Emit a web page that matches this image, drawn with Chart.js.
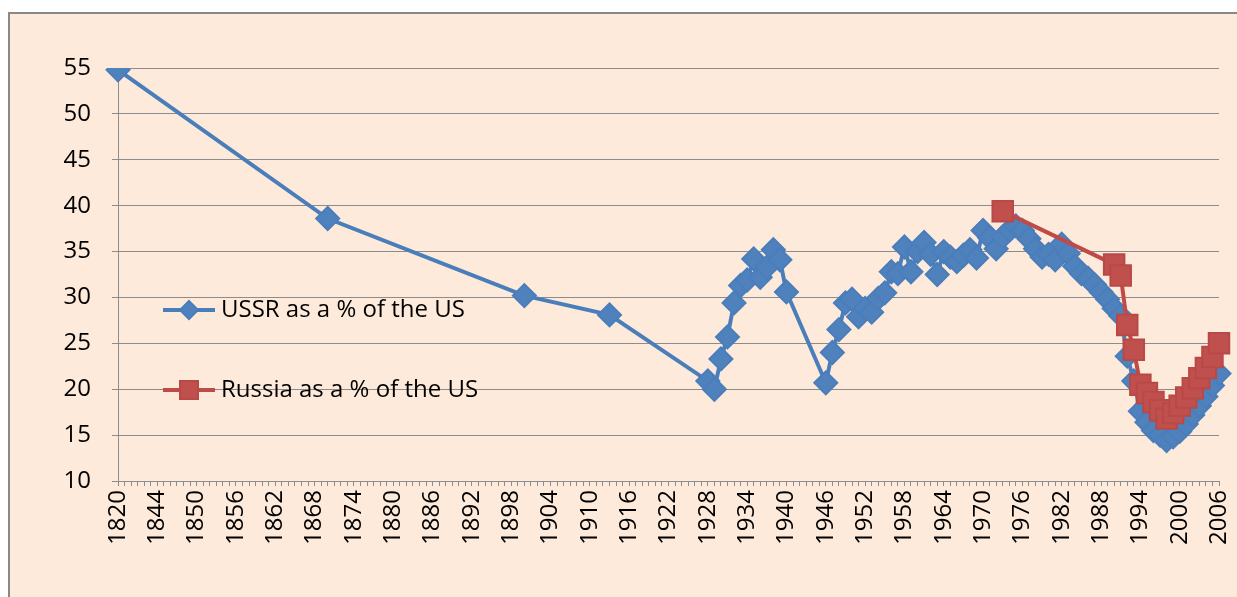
<!DOCTYPE html>
<html>
<head>
<meta charset="utf-8">
<script src="https://cdn.jsdelivr.net/npm/chart.js@4/dist/chart.umd.min.js"></script>
<style>
  html, body { margin: 0; padding: 0; background: #fff; }
  #wrap { width: 1237px; height: 597px; position: relative; }
</style>
</head>
<body>
<div id="wrap"><canvas id="gdpChart"></canvas></div>
<script>
// category axis: 1820, then every year 1839..2006 (Excel line chart)
const years = ['1820'];
for (let y = 1839; y <= 2006; y++) years.push(String(y));

const ussrYears = [1820, 1870, 1900, 1913,
    1928, 1929, 1930, 1931, 1932, 1933, 1934, 1935, 1936, 1937, 1938, 1939, 1940,
    1946, 1947, 1948, 1949, 1950, 1951, 1952, 1953, 1954, 1955, 1956, 1957, 1958, 1959,
    1960, 1961, 1962, 1963, 1964, 1965, 1966, 1967, 1968, 1969,
    1970, 1971, 1972, 1973, 1974, 1975, 1976, 1977, 1978, 1979,
    1980, 1981, 1982, 1983, 1984, 1985, 1986, 1987, 1988, 1989,
    1990, 1991, 1992, 1993, 1994, 1995, 1996, 1997, 1998, 1999,
    2000, 2001, 2002, 2003, 2004, 2005, 2006];
const ussrValues = [54.8, 38.6, 30.2, 28.1,
    20.9, 20.0, 23.3, 25.7, 29.4, 31.3, 31.9, 34.2, 32.2, 33.3, 35.2, 34.1, 30.6,
    20.7, 24.0, 26.5, 29.4, 29.8, 27.9, 28.8, 28.4, 29.9, 30.5, 32.8, 32.6, 35.5, 32.8,
    35.0, 36.0, 34.7, 32.5, 35.0, 34.4, 33.9, 34.6, 35.2, 34.3,
    37.3, 36.5, 35.3, 36.6, 37.3, 37.8, 37.3, 36.4, 35.3, 34.4,
    34.7, 34.1, 35.8, 34.8, 33.4, 32.6, 32.1, 31.4, 30.6, 29.8,
    28.8, 28.0, 23.6, 20.9, 17.6, 16.4, 15.5, 15.0, 14.4, 14.8,
    15.4, 16.2, 17.2, 18.2, 19.2, 20.4, 21.7];

const russiaYears = [1973, 1990, 1991, 1992, 1993, 1994, 1995, 1996, 1997, 1998, 1999,
    2000, 2001, 2002, 2003, 2004, 2005, 2006];
const russiaValues = [39.4, 33.6, 32.4, 27.0, 24.3, 20.5, 19.6, 18.6, 17.7, 16.8, 17.4,
    18.2, 19.1, 20.1, 21.2, 22.3, 23.5, 25.0];

const yTicks = [10, 15, 20, 25, 30, 35, 40, 45, 50, 55];

const pairs = (xs, vs) => xs.map((x, i) => ({ x: String(x), y: vs[i] }));

// peach panel with grey frame
const panelBg = {
    id: 'panelBg',
    beforeDraw(chart) {
        const ctx = chart.ctx;
        ctx.save();
        ctx.fillStyle = '#ffffff';
        ctx.fillRect(0, 0, chart.width, chart.height);
        ctx.fillStyle = '#FDEADA';
        ctx.fillRect(9, 13, chart.width, chart.height);
        ctx.strokeStyle = '#888888';
        ctx.lineWidth = 2;
        ctx.beginPath();
        ctx.moveTo(9, chart.height + 2);
        ctx.lineTo(9, 13);
        ctx.lineTo(chart.width + 2, 13);
        ctx.stroke();
        ctx.restore();
    }
};

// legend floating inside the plot, as in the Excel original
const floatLegend = {
    id: 'floatLegend',
    afterDraw(chart) {
        const ctx = chart.ctx;
        const rows = [
            { ds: chart.data.datasets[1], y: 310, shape: 'diamond' },
            { ds: chart.data.datasets[0], y: 390, shape: 'square' }
        ];
        ctx.save();
        rows.forEach(r => {
            ctx.strokeStyle = r.ds.borderColor;
            ctx.lineWidth = 4;
            ctx.beginPath();
            ctx.moveTo(163, r.y);
            ctx.lineTo(215, r.y);
            ctx.stroke();
            ctx.fillStyle = r.ds.pointBackgroundColor;
            ctx.strokeStyle = r.ds.pointBorderColor;
            ctx.lineWidth = 2;
            ctx.beginPath();
            if (r.shape === 'diamond') {
                ctx.moveTo(189, r.y - 9);
                ctx.lineTo(198, r.y);
                ctx.lineTo(189, r.y + 9);
                ctx.lineTo(180, r.y);
                ctx.closePath();
            } else {
                ctx.rect(180, r.y - 9, 18, 18);
            }
            ctx.fill();
            ctx.stroke();
            ctx.fillStyle = '#000';
            ctx.font = '24px "Open Sans"';
            ctx.textBaseline = 'middle';
            ctx.fillText(r.ds.label, 221, r.y);
        });
        ctx.restore();
    }
};

new Chart(document.getElementById('gdpChart'), {
    type: 'line',
    data: {
        labels: years,
        datasets: [{
            label: 'Russia as a % of the US',
            data: pairs(russiaYears, russiaValues),
            borderColor: '#BE4B48',
            borderWidth: 4,
            pointStyle: 'rect',
            pointRadius: 14.5,
            pointBackgroundColor: '#C0504D',
            pointBorderColor: '#B84946',
            pointBorderWidth: 2,
            order: 0
        }, {
            label: 'USSR as a % of the US',
            data: pairs(ussrYears, ussrValues),
            borderColor: '#4A7EBB',
            borderWidth: 4,
            pointStyle: 'rectRot',
            pointRadius: 11.5,
            pointBackgroundColor: '#4F81BD',
            pointBorderColor: '#4A7EBB',
            pointBorderWidth: 2,
            order: 1
        }]
    },
    options: {
        responsive: true,
        maintainAspectRatio: false,
        animation: false,
        layout: { padding: { top: 68, right: 18, left: 0, bottom: 0 } },
        plugins: {
            legend: { display: false },
            tooltip: { enabled: false }
        },
        scales: {
            x: {
                type: 'category',
                offset: false,
                afterFit: s => { s.height = 116; s.paddingLeft = 0; s.paddingRight = 0; },
                border: { color: '#8c8c8c', width: 1 },
                grid: { drawOnChartArea: false, tickLength: 5, color: '#8c8c8c' },
                ticks: {
                    autoSkip: false,
                    minRotation: 90,
                    maxRotation: 90,
                    padding: 4,
                    color: '#000',
                    font: { family: 'Open Sans', size: 24 },
                    callback: (v, i) => (i % 6 === 0 ? years[i] : '')
                }
            },
            y: {
                min: 10,
                max: 55,
                afterFit: s => { s.width = 118; s.paddingTop = 0; s.paddingBottom = 0; },
                afterBuildTicks: s => { s.ticks = yTicks.map(v => ({ value: v })); },
                border: { color: '#8c8c8c', width: 1 },
                grid: { color: '#8c8c8c', tickLength: 6 },
                ticks: {
                    padding: 21,
                    color: '#000',
                    font: { family: 'Open Sans', size: 24 }
                }
            }
        }
    },
    plugins: [panelBg, floatLegend]
});
</script>
</body>
</html>
